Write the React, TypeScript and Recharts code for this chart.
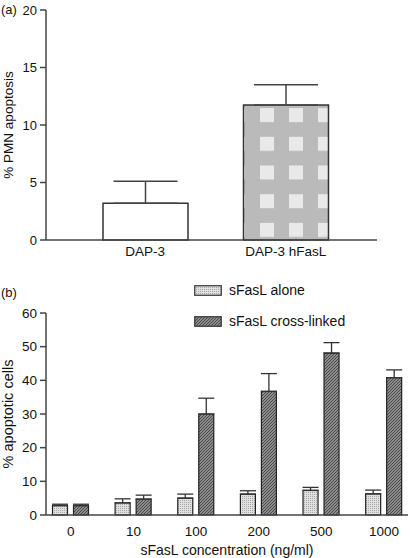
import { BarChart, Bar, XAxis, YAxis, ErrorBar, Legend, Cell } from 'recharts';

// panel (a)
const cellLines = ['DAP-3', 'DAP-3 hFasL'];
const pmnApoptosis = [3.2, 11.75];
const pmnError = [1.9, 1.75];
const pmnTicks = [0, 5, 10, 15, 20];

// panel (b)
const concentrations = ['0', '10', '100', '200', '500', '1000'];
const aloneValues = [2.8, 3.6, 5.0, 6.2, 7.3, 6.3];
const aloneError = [0.4, 1.2, 1.2, 1.0, 0.9, 1.1];
const crossValues = [2.8, 4.7, 30, 36.7, 48.1, 40.8];
const crossError = [0.4, 1.2, 4.7, 5.3, 3.1, 2.3];
const apoptoticTicks = [0, 10, 20, 30, 40, 50, 60];
const seriesNames = ['sFasL alone', 'sFasL cross-linked'];

const dataA = cellLines.map((name, i) => ({
  name,
  value: pmnApoptosis[i],
  err: [0, pmnError[i]],
}));

const dataB = concentrations.map((name, i) => ({
  name,
  alone: aloneValues[i],
  aloneErr: [0, aloneError[i]],
  cross: crossValues[i],
  crossErr: [0, crossError[i]],
}));

const axisColor = '#444';
const textColor = '#111';
const font = '"Liberation Sans", Arial, sans-serif';

const Swatch = ({ fill }: { fill: string }) => (
  <svg width={28} height={11} style={{ display: 'block' }}>
    <rect x={0.75} y={0.75} width={26.5} height={9.5} fill={fill} stroke="#333" strokeWidth={1.2} />
  </svg>
);

const LegendBox = () => (
  <div style={{ fontSize: 14, color: textColor, fontFamily: font }}>
    {seriesNames.map((s, i) => (
      <div key={s} style={{ display: 'flex', alignItems: 'center', height: 20, marginBottom: i === 0 ? 11 : 0 }}>
        <Swatch fill={i === 0 ? 'url(#alonePat)' : 'url(#crossPat)'} />
        <span style={{ marginLeft: 7 }}>{s}</span>
      </div>
    ))}
  </div>
);

export default function App() {
  return (
    <div style={{ position: 'absolute', left: 0, top: 0, width: 410, height: 558, background: '#fff', fontFamily: font }}>
      <div style={{ position: 'absolute', left: 1, top: 2, fontSize: 13, color: textColor }}>(a)</div>
      <div style={{ position: 'absolute', left: 0, top: 0 }}>
        <BarChart width={410} height={275} data={dataA} margin={{ top: 10, right: 33, left: 0, bottom: 0 }}>
          <defs>
            <pattern id="checkPat" patternUnits="userSpaceOnUse" x={28} y={22} width={29} height={28.7}>
              <rect x={0} y={0} width={29} height={28.7} fill="#bababa" />
              <rect x={0} y={0} width={14} height={14} fill="#e9e9e9" />
            </pattern>
          </defs>
          <XAxis
            dataKey="name"
            height={35}
            padding={{ left: 29, right: 21 }}
            tickLine={false}
            tickSize={0}
            tickMargin={6}
            axisLine={{ stroke: axisColor, strokeWidth: 1.5 }}
            tick={{ fontSize: 13.5, fill: textColor }}
          />
          <YAxis
            width={46}
            domain={[0, 20]}
            ticks={pmnTicks}
            tickSize={6}
            tickMargin={3}
            axisLine={{ stroke: axisColor, strokeWidth: 1.5 }}
            tickLine={{ stroke: axisColor, strokeWidth: 1.5 }}
            tick={{ fontSize: 13, fill: textColor }}
            label={{ value: '%  PMN apoptosis', angle: -90, position: 'insideLeft', offset: 8, style: { textAnchor: 'middle', fontSize: 13.5, fill: textColor } }}
          />
          <Bar dataKey="value" barSize={85} stroke="#333" strokeWidth={1.5} isAnimationActive={false}>
            {dataA.map((d, i) => (
              <Cell key={d.name} fill={i === 0 ? '#ffffff' : 'url(#checkPat)'} />
            ))}
            <ErrorBar dataKey="err" width={32} stroke="#444" strokeWidth={1.5} direction="y" />
          </Bar>
        </BarChart>
      </div>

      <div style={{ position: 'absolute', left: 1, top: 285, fontSize: 13, color: textColor }}>(b)</div>
      <div style={{ position: 'absolute', left: 0, top: 280 }}>
        <BarChart width={410} height={278} data={dataB} margin={{ top: 33, right: 2, left: 0, bottom: 0 }} barSize={15} barGap={6}>
          <defs>
            <pattern id="alonePat" patternUnits="userSpaceOnUse" width={2} height={2}>
              <rect x={0} y={0} width={2} height={2} fill="#e0e0e0" />
              <rect x={0} y={0} width={1} height={1} fill="#a9a9a9" />
            </pattern>
            <pattern id="crossPat" patternUnits="userSpaceOnUse" width={3} height={3}>
              <rect x={0} y={0} width={3} height={3} fill="#8c8c8c" />
              <path d="M0,3 L3,0" stroke="#4a4a4a" strokeWidth={1} />
            </pattern>
          </defs>
          <XAxis
            dataKey="name"
            height={43}
            padding={{ left: -6.5, right: -7.3 }}
            tickLine={false}
            tickSize={0}
            tickMargin={11}
            axisLine={{ stroke: axisColor, strokeWidth: 1.5 }}
            tick={{ fontSize: 13.5, fill: textColor }}
            label={{ value: 'sFasL concentration (ng/ml)', position: 'insideBottom', offset: 3, style: { fontSize: 14, fill: textColor } }}
          />
          <YAxis
            width={46}
            domain={[0, 60]}
            ticks={apoptoticTicks}
            tickSize={6}
            tickMargin={3}
            axisLine={{ stroke: axisColor, strokeWidth: 1.5 }}
            tickLine={{ stroke: axisColor, strokeWidth: 1.5 }}
            tick={{ fontSize: 13.5, fill: textColor }}
            label={{ value: '% apoptotic cells', angle: -90, position: 'insideLeft', offset: 8, style: { textAnchor: 'middle', fontSize: 14.5, fill: textColor } }}
          />
          <Legend
            layout="vertical"
            align="center"
            verticalAlign="middle"
            content={<LegendBox />}
            wrapperStyle={{ left: 194, top: 0, width: 200 }}
          />
          <Bar dataKey="alone" name={seriesNames[0]} fill="url(#alonePat)" stroke="#222" strokeWidth={1.2} isAnimationActive={false}>
            <ErrorBar dataKey="aloneErr" width={8} stroke="#333" strokeWidth={1.3} direction="y" />
          </Bar>
          <Bar dataKey="cross" name={seriesNames[1]} fill="url(#crossPat)" stroke="#222" strokeWidth={1.2} isAnimationActive={false}>
            <ErrorBar dataKey="crossErr" width={8} stroke="#333" strokeWidth={1.3} direction="y" />
          </Bar>
        </BarChart>
      </div>
    </div>
  );
}
